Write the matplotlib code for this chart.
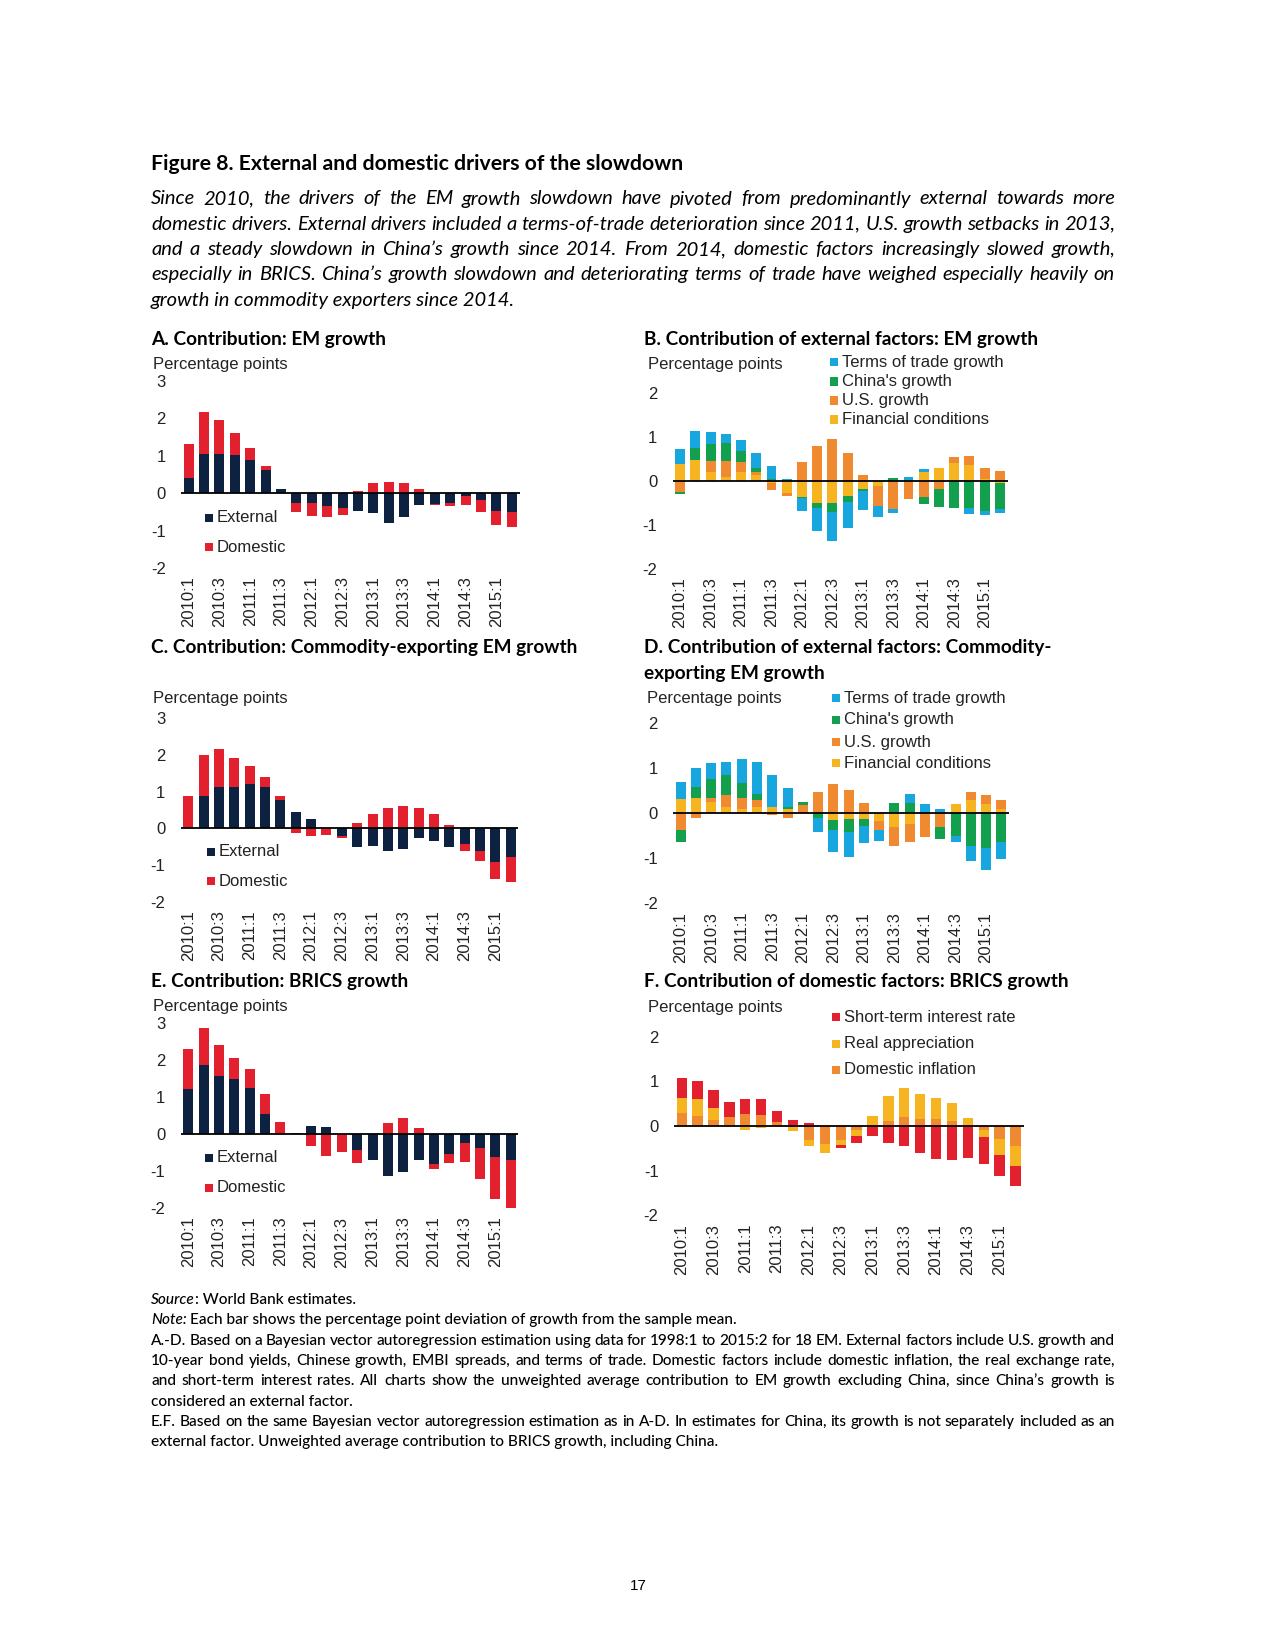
import matplotlib
matplotlib.use('Agg')
import matplotlib.pyplot as plt
from matplotlib.patches import Rectangle
import numpy as np

W, H = 1275, 1650

quarters = ['2010:1', '2010:2', '2010:3', '2010:4', '2011:1', '2011:2', '2011:3', '2011:4',
            '2012:1', '2012:2', '2012:3', '2012:4', '2013:1', '2013:2', '2013:3', '2013:4',
            '2014:1', '2014:2', '2014:3', '2014:4', '2015:1', '2015:2']

# A. EM growth
a_ext = [0.40, 1.05, 1.05, 1.02, 0.89, 0.62, 0.12, -0.25, -0.25, -0.33, -0.40, -0.47,
         -0.52, -0.79, -0.64, -0.32, -0.30, -0.27, -0.07, -0.18, -0.47, -0.49]
a_dom = [0.91, 1.11, 0.91, 0.60, 0.33, 0.11, 0.00, -0.24, -0.35, -0.30, -0.19, 0.05,
         0.27, 0.31, 0.28, 0.12, -0.02, -0.08, -0.24, -0.31, -0.38, -0.42]

# B. external factors, EM growth
b_fin = [0.38, 0.46, 0.20, 0.08, 0.20, 0.12, -0.05, -0.28, -0.38, -0.50, -0.50, -0.35,
         -0.18, -0.12, 0.00, 0.00, 0.20, 0.30, 0.40, 0.35, 0.05, -0.05]
b_us = [-0.25, 0.02, 0.25, 0.37, 0.22, 0.07, -0.15, -0.06, 0.42, 0.79, 0.94, 0.62,
        0.12, -0.46, -0.65, -0.42, -0.38, -0.19, 0.14, 0.21, 0.25, 0.23]
b_china = [-0.05, 0.27, 0.38, 0.40, 0.26, 0.10, 0.04, 0.00, -0.02, -0.11, -0.21, -0.13,
           -0.05, 0.00, 0.06, 0.00, -0.16, -0.41, -0.62, -0.63, -0.69, -0.60]
b_tot = [0.33, 0.37, 0.27, 0.21, 0.24, 0.35, 0.29, 0.03, -0.30, -0.54, -0.65, -0.59,
         -0.44, -0.24, -0.09, 0.08, 0.07, 0.00, 0.00, -0.12, -0.10, -0.09]

# C. commodity exporters
c_ext = [0.00, 0.87, 1.12, 1.14, 1.22, 1.12, 0.76, 0.44, 0.25, 0.00, -0.21, -0.51,
         -0.49, -0.63, -0.56, -0.26, -0.35, -0.52, -0.44, -0.63, -0.91, -0.77]
c_dom = [0.88, 1.13, 1.05, 0.79, 0.47, 0.28, 0.13, -0.12, -0.21, -0.18, -0.05, 0.15,
         0.38, 0.56, 0.60, 0.56, 0.40, 0.09, -0.17, -0.26, -0.46, -0.69]

# D. external factors, commodity exporters
d_fin = [0.32, 0.35, 0.25, 0.15, 0.10, 0.15, 0.15, 0.10, 0.00, 0.00, -0.15, -0.13,
         -0.13, -0.18, -0.30, -0.24, 0.00, 0.00, 0.21, 0.29, 0.21, 0.10]
d_us = [-0.36, -0.10, 0.10, 0.25, 0.25, 0.15, -0.04, -0.10, 0.18, 0.47, 0.64, 0.51,
        0.23, -0.20, -0.42, -0.40, -0.52, -0.30, 0.00, 0.18, 0.20, 0.19]
d_china = [-0.28, 0.23, 0.41, 0.44, 0.33, 0.14, 0.00, 0.03, 0.07, -0.11, -0.21, -0.28,
           -0.15, 0.00, 0.23, 0.23, 0.00, -0.27, -0.50, -0.73, -0.78, -0.63]
d_tot = [0.37, 0.42, 0.35, 0.29, 0.52, 0.69, 0.69, 0.43, 0.00, -0.30, -0.49, -0.57,
         -0.37, -0.23, 0.00, 0.19, 0.20, 0.10, -0.13, -0.32, -0.49, -0.39]

# E. BRICS
e_ext = [1.22, 1.86, 1.57, 1.48, 1.24, 0.53, 0.00, 0.00, 0.22, 0.20, 0.00, -0.43,
         -0.70, -1.13, -1.03, -0.70, -0.81, -0.54, -0.23, -0.37, -0.61, -0.70]
e_dom = [1.07, 1.00, 0.82, 0.57, 0.52, 0.54, 0.33, 0.03, -0.33, -0.58, -0.49, -0.36,
         0.00, 0.30, 0.42, 0.15, -0.12, -0.23, -0.53, -0.83, -1.13, -1.30]

# F. domestic factors, BRICS
f_infl = [0.28, 0.22, 0.13, 0.20, 0.27, 0.25, 0.08, 0.00, -0.32, -0.40, -0.32, -0.10,
          0.00, 0.12, 0.20, 0.15, 0.15, 0.12, 0.00, -0.10, -0.30, -0.45]
f_appr = [0.35, 0.38, 0.27, 0.00, -0.08, -0.05, 0.00, -0.12, -0.13, -0.20, -0.11, -0.12,
          0.22, 0.54, 0.66, 0.57, 0.48, 0.40, 0.18, -0.15, -0.35, -0.45]
f_rate = [0.45, 0.40, 0.40, 0.34, 0.33, 0.35, 0.26, 0.13, 0.07, 0.00, -0.07, -0.17,
          -0.22, -0.38, -0.45, -0.60, -0.74, -0.75, -0.72, -0.59, -0.47, -0.45]

NAVY = '#0d2240'
RED = '#e3202d'
BLUE = '#17a7de'
GREEN = '#13a04e'
ORANGE = '#ef8a30'
YELLOW = '#f6b420'

CHART_FONT = 'Liberation Sans'
TEXT_FONT = 'Lato'

fig = plt.figure(figsize=(W / 100, H / 100), dpi=100)
fig.patch.set_facecolor('white')


def fx(x):
    return x / W


def fy(y):
    return 1 - y / H


def make_axes(left, right, top, bottom, ylim, yticks):
    ax = fig.add_axes([fx(left), fy(bottom), (right - left) / W, (bottom - top) / H])
    ax.set_xlim(-0.5, len(quarters) - 0.5)
    ax.set_ylim(*ylim)
    for s in ax.spines.values():
        s.set_visible(False)
    ax.set_yticks(yticks)
    ax.set_yticklabels([str(t) for t in yticks], fontfamily=CHART_FONT, fontsize=12, color='#222222')
    ax.set_xticks(range(0, len(quarters), 2))
    ax.set_xticklabels(quarters[::2], rotation=90, fontfamily=CHART_FONT, fontsize=12, color='#222222')
    ax.tick_params(length=0)
    ax.tick_params(axis='y', pad=11)
    ax.tick_params(axis='x', pad=6)
    ax.patch.set_alpha(0)
    return ax


def stacked(ax, series, colors, width=0.65):
    x = np.arange(len(quarters))
    pos = np.zeros(len(quarters))
    neg = np.zeros(len(quarters))
    for vals, c in zip(series, colors):
        v = np.array(vals)
        base = np.where(v >= 0, pos, neg)
        ax.bar(x, v, width, bottom=base, color=c, linewidth=0, zorder=2)
        pos = pos + np.where(v > 0, v, 0)
        neg = neg + np.where(v < 0, v, 0)
    ax.axhline(0, color='black', lw=1.3, zorder=3)


def legend(x, ys, labels, colors):
    for y, lab, c in zip(ys, labels, colors):
        fig.patches.append(Rectangle((fx(x), fy(y + 4)), 8 / W, 8 / H, transform=fig.transFigure,
                                     facecolor=c, edgecolor='none'))
        fig.text(fx(x + 12), fy(y), lab, fontfamily=CHART_FONT, fontsize=12,
                 color='#222222', va='center', ha='left')


def label(x, y, s, **kw):
    fig.text(fx(x), fy(y), s, va='center', ha='left', **kw)


def panel_title(x, y, s):
    label(x, y, s, fontfamily=TEXT_FONT, fontweight='bold', fontsize=13.7, color='black')


def unit_label(x, y):
    label(x, y, 'Percentage points', fontfamily=CHART_FONT, fontsize=12, color='#222222')


renderer = fig.canvas.get_renderer()


def text_width(s, **kw):
    t = fig.text(0, 0, s, **kw)
    w = t.get_window_extent(renderer).width
    t.remove()
    return w


def justified(x0, x1, y, line, **kw):
    words = line.split()
    widths = [text_width(w, **kw) for w in words]
    gap = (x1 - x0 - sum(widths)) / (len(words) - 1)
    x = x0
    for w, wd in zip(words, widths):
        fig.text(fx(x), fy(y), w, va='center', ha='left', **kw)
        x += wd + gap


# ---- header text
label(151, 164, 'Figure 8. External and domestic drivers of the slowdown',
      fontfamily=TEXT_FONT, fontweight='bold', fontsize=15.3)
intro = ['Since 2010, the drivers of the EM growth slowdown have pivoted from predominantly external towards more',
         'domestic drivers. External drivers included a terms-of-trade deterioration since 2011, U.S. growth setbacks in 2013,',
         'and a steady slowdown in China\u2019s growth since 2014. From 2014, domestic factors increasingly slowed growth,',
         'especially in BRICS. China\u2019s growth slowdown and deteriorating terms of trade have weighed especially heavily on']
ital = dict(fontfamily=TEXT_FONT, fontstyle='italic', fontsize=14.5)
for i, ln in enumerate(intro):
    justified(151, 1115, 199 + 25.3 * i, ln, **ital)
label(151, 199 + 25.3 * 4, 'growth in commodity exporters since 2014.', **ital)

# ---- panel A
panel_title(151, 340, 'A. Contribution: EM growth')
unit_label(153, 364)
ax = make_axes(181, 519.5, 381, 568, (-2, 3), [3, 2, 1, 0, -1, -2])
stacked(ax, [a_ext, a_dom], [NAVY, RED])
legend(205, [518, 547], ['External', 'Domestic'], [NAVY, RED])

# ---- panel B
panel_title(644, 340, 'B. Contribution of external factors: EM growth')
unit_label(648, 364)
ax = make_axes(672.5, 1007.5, 392.7, 568.7, (-2, 2), [2, 1, 0, -1, -2])
stacked(ax, [b_fin, b_us, b_china, b_tot], [YELLOW, ORANGE, GREEN, BLUE])
legend(830, [362, 381.5, 400.5, 419.5],
       ['Terms of trade growth', "China's growth", 'U.S. growth', 'Financial conditions'],
       [BLUE, GREEN, ORANGE, YELLOW])

# ---- panel C
panel_title(151, 648, 'C. Contribution: Commodity-exporting EM growth')
unit_label(153, 698)
ax = make_axes(180.5, 518.5, 718.3, 901.7, (-2, 3), [3, 2, 1, 0, -1, -2])
stacked(ax, [c_ext, c_dom], [NAVY, RED])
legend(207, [852, 881], ['External', 'Domestic'], [NAVY, RED])

# ---- panel D
panel_title(644, 648, 'D. Contribution of external factors: Commodity-')
panel_title(644, 673, 'exporting EM growth')
unit_label(647, 699)
ax = make_axes(673, 1009, 723.3, 903.3, (-2, 2), [2, 1, 0, -1, -2])
stacked(ax, [d_fin, d_us, d_china, d_tot], [YELLOW, ORANGE, GREEN, BLUE])
legend(832, [698, 720, 742, 763.5],
       ['Terms of trade growth', "China's growth", 'U.S. growth', 'Financial conditions'],
       [BLUE, GREEN, ORANGE, YELLOW])

# ---- panel E
panel_title(151, 982, 'E. Contribution: BRICS growth')
unit_label(153, 1006)
ax = make_axes(180.5, 518.5, 1022.7, 1208.2, (-2, 3), [3, 2, 1, 0, -1, -2])
stacked(ax, [e_ext, e_dom], [NAVY, RED])
legend(205, [1158, 1188], ['External', 'Domestic'], [NAVY, RED])

# ---- panel F
panel_title(644, 982, 'F. Contribution of domestic factors: BRICS growth')
unit_label(648, 1007)
ax = make_axes(673.8, 1023.5, 1036.6, 1215.4, (-2, 2), [2, 1, 0, -1, -2])
stacked(ax, [f_infl, f_appr, f_rate], [ORANGE, YELLOW, RED])
legend(832, [1017, 1043.5, 1070],
       ['Short-term interest rate', 'Real appreciation', 'Domestic inflation'],
       [RED, YELLOW, ORANGE])

# ---- footer
foot = dict(fontfamily=TEXT_FONT, fontsize=11.1, fontweight='medium')
fy0 = 1300
w = text_width('Source', fontstyle='italic', **foot)
label(151, fy0, 'Source', fontstyle='italic', **foot)
label(151 + w, fy0, ': World Bank estimates.', **foot)
w = text_width('Note:', fontstyle='italic', **foot)
label(151, fy0 + 20.3, 'Note:', fontstyle='italic', **foot)
label(151 + w + 3, fy0 + 20.3, 'Each bar shows the percentage point deviation of growth from the sample mean.', **foot)
notes = [('A.-D. Based on a Bayesian vector autoregression estimation using data for 1998:1 to 2015:2 for 18 EM. External factors include U.S. growth and', True),
         ('10-year bond yields, Chinese growth, EMBI spreads, and terms of trade. Domestic factors include domestic inflation, the real exchange rate,', True),
         ('and short-term interest rates. All charts show the unweighted average contribution to EM growth excluding China, since China\u2019s growth is', True),
         ('considered an external factor.', False),
         ('E.F. Based on the same Bayesian vector autoregression estimation as in A-D. In estimates for China, its growth is not separately included as an', True),
         ('external factor. Unweighted average contribution to BRICS growth, including China.', False)]
for i, (ln, just) in enumerate(notes):
    y = fy0 + 20.3 * (i + 2)
    if just:
        justified(151, 1115, y, ln, **foot)
    else:
        label(151, y, ln, **foot)

fig.text(fx(638), fy(1586), '17', fontfamily=CHART_FONT, fontsize=11, ha='center', va='center')

fig.savefig('out.png', dpi=100, facecolor='white')
